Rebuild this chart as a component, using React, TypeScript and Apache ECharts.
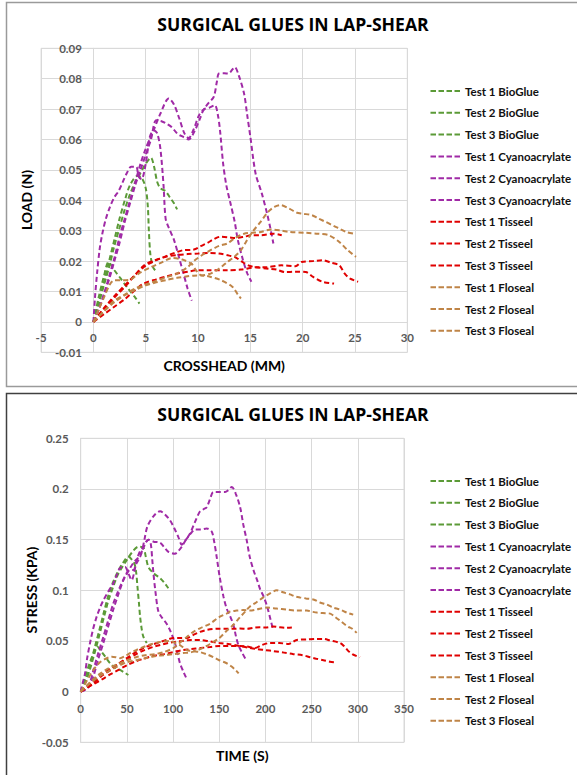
import React, { useEffect, useRef } from "react";
import * as echarts from "echarts";

const seriesNames = [
  "Test 1 BioGlue", "Test 2 BioGlue", "Test 3 BioGlue",
  "Test 1 Cyanoacrylate", "Test 2 Cyanoacrylate", "Test 3 Cyanoacrylate",
  "Test 1 Tisseel", "Test 2 Tisseel", "Test 3 Tisseel",
  "Test 1 Floseal", "Test 2 Floseal", "Test 3 Floseal",
];
const GREEN = "#5b9a37";
const PURPLE = "#a02aa6";
const RED = "#e00000";
const BROWN = "#bf8447";
const seriesColors = [GREEN, GREEN, GREEN, PURPLE, PURPLE, PURPLE, RED, RED, RED, BROWN, BROWN, BROWN];

const chartTitle = "SURGICAL GLUES IN LAP-SHEAR";
const loadXName = "CROSSHEAD (MM)";
const loadYName = "LOAD (N)";
const stressXName = "TIME (S)";
const stressYName = "STRESS (KPA)";

const loadXRange = { min: -5, max: 30, interval: 5 };
const loadYRange = { min: -0.01, max: 0.09, interval: 0.01 };
const stressXRange = { min: 0, max: 350, interval: 50 };
const stressYRange = { min: -0.05, max: 0.25, interval: 0.05 };

// ---- Chart 1: crosshead (mm) vs load (N)
const loadBio1 = [[0,0],[0.5,0.008],[1,0.015],[1.45,0.0197],[2,0.017],[2.6,0.0143],[3.3,0.011],[4,0.008],[4.4,0.006]];
const loadBio2 = [[0,0],[0.5,0.006],[1,0.013],[1.5,0.02],[2,0.027],[2.5,0.034],[3,0.04],[3.5,0.045],[4.2,0.048],[4.6,0.0475],[5,0.044],[5.2,0.038],[5.3,0.03],[5.45,0.022],[5.7,0.018],[5.9,0.017]];
const loadBio3 = [[0,0],[0.5,0.006],[1,0.012],[1.5,0.018],[2,0.025],[2.5,0.031],[3,0.037],[3.5,0.042],[4,0.046],[4.5,0.049],[5,0.052],[5.5,0.054],[5.8,0.051],[6.1,0.046],[6.4,0.044],[6.9,0.043],[7.3,0.041],[7.7,0.039],[8,0.037]];
const loadCya1 = [[0,0],[0.15,0.008],[0.35,0.016],[0.6,0.024],[0.85,0.029],[1.2,0.034],[1.6,0.038],[2,0.041],[2.4,0.043],[2.8,0.046],[3.2,0.049],[3.6,0.051],[4.1,0.051],[4.3,0.048],[4.6,0.047],[5,0.052],[5.4,0.061],[5.8,0.063],[6.1,0.062],[6.4,0.057],[6.7,0.045],[6.9,0.034],[7.2,0.031],[7.7,0.027],[8.2,0.021],[8.6,0.016],[9,0.011],[9.4,0.007]];
const loadCya2 = [[0,0],[0.5,0.004],[1,0.009],[1.5,0.015],[2,0.021],[2.5,0.028],[3,0.034],[3.5,0.04],[4,0.046],[4.5,0.052],[5,0.057],[5.75,0.063],[6.4,0.0685],[7.2,0.0735],[7.7,0.0715],[8.2,0.067],[8.7,0.062],[9.1,0.0605],[9.6,0.0635],[10.1,0.068],[10.6,0.07],[11.1,0.0705],[11.6,0.0713],[11.9,0.068],[12.1,0.063],[12.4,0.052],[12.7,0.045],[13.1,0.039],[13.5,0.033],[13.8,0.027],[14.3,0.0203],[14.7,0.016],[15.1,0.0132]];
const loadCya3 = [[0,0],[0.5,0.004],[1,0.009],[1.5,0.014],[2,0.02],[2.5,0.026],[3,0.033],[3.5,0.039],[4,0.045],[4.5,0.05],[5,0.055],[5.5,0.06],[6,0.0663],[6.5,0.066],[7,0.0652],[7.5,0.064],[8,0.062],[8.5,0.061],[9.1,0.06],[9.7,0.063],[10.2,0.067],[10.5,0.0696],[11,0.072],[11.5,0.074],[11.8,0.079],[12,0.0817],[12.5,0.0818],[12.9,0.0817],[13.5,0.0838],[13.9,0.081],[14.4,0.0751],[14.7,0.068],[15,0.0609],[15.5,0.0488],[16.1,0.0422],[16.6,0.0356],[16.9,0.031],[17.2,0.0258]];
const loadTis1 = [[0,0],[1,0.004],[2,0.008],[3,0.0115],[4,0.0155],[4.8,0.0185],[5.5,0.0198],[6.5,0.021],[7.35,0.0222],[8,0.023],[8.6,0.0236],[9.6,0.0238],[10.3,0.025],[10.9,0.026],[11.5,0.0272],[12.1,0.028],[13,0.0278],[13.5,0.0276],[14.4,0.028],[15.1,0.0285],[16,0.0285],[17.2,0.029],[18,0.0285]];
const loadTis2 = [[0,0],[1,0.0045],[2,0.0085],[3,0.012],[4,0.0155],[5,0.0185],[6,0.0203],[7,0.0215],[8,0.022],[9,0.0223],[10,0.0225],[11,0.0227],[12,0.0225],[13,0.0218],[13.5,0.0214],[14.2,0.0198],[14.8,0.0186],[15.5,0.018],[16.75,0.0175],[17.5,0.0172],[18.3,0.0164],[19.3,0.0165],[20.3,0.0164],[21,0.0148],[21.9,0.0132],[23,0.0126]];
const loadTis3 = [[0,0],[1,0.0025],[2,0.005],[3,0.0075],[4,0.0105],[4.8,0.0126],[6,0.014],[7,0.015],[8,0.0159],[9,0.0165],[10,0.017],[11,0.017],[12.8,0.017],[14.1,0.0172],[15.7,0.018],[16.5,0.018],[18,0.0186],[19.3,0.0183],[19.9,0.0197],[21,0.02],[21.9,0.0203],[22.7,0.0195],[23.5,0.0186],[24,0.016],[24.5,0.0143],[25.3,0.0132]];
const loadFlo1 = [[0,0],[0.5,0.004],[1,0.008],[1.6,0.0125],[2,0.0137],[2.6,0.0137],[3.4,0.0138],[4,0.015],[4.5,0.0163],[5.5,0.018],[6.5,0.0195],[7.5,0.021],[8.5,0.0205],[9.4,0.019],[9.8,0.017],[10.2,0.0155],[11,0.015],[12.2,0.0137],[13.3,0.0115],[13.8,0.009],[14.1,0.0077]];
const loadFlo2 = [[0,0],[1,0.0035],[2,0.007],[3,0.009],[4,0.011],[5,0.0123],[6,0.0135],[7,0.0147],[8,0.0159],[9,0.018],[9.6,0.02],[10.4,0.022],[11.2,0.0236],[12,0.025],[12.8,0.0258],[13.5,0.0275],[14.4,0.029],[15.1,0.0293],[16,0.0296],[17,0.0304],[18,0.03],[18.7,0.0296],[20.3,0.0293],[21.5,0.029],[22.5,0.0285],[23.5,0.0263],[24.3,0.0236],[25.1,0.0214]];
const loadFlo3 = [[0,0],[1,0.0035],[2,0.0065],[3,0.0088],[4,0.0105],[5,0.012],[6,0.013],[7,0.0138],[8,0.0145],[9,0.015],[9.6,0.0152],[10.4,0.0153],[11.2,0.0159],[12,0.0175],[12.8,0.0197],[13.5,0.0215],[14.1,0.0236],[14.7,0.027],[15.2,0.0296],[16,0.033],[16.7,0.0362],[17.3,0.0378],[17.9,0.0384],[18.7,0.0373],[19.4,0.036],[20,0.0356],[20.9,0.0351],[21.5,0.034],[22.2,0.0329],[23,0.0315],[23.5,0.0307],[24.2,0.0295],[24.9,0.029]];

// ---- Chart 2: time (s) vs stress (kPa)
const stressBio1 = [[0,0],[5,0.015],[10,0.029],[15,0.04],[18,0.0444],[22,0.04],[27,0.034],[31.8,0.028],[37,0.024],[42.6,0.0214],[47,0.019],[51.6,0.0164]];
const stressBio2 = [[0,0],[5,0.01],[10,0.025],[15,0.043],[20,0.06],[25,0.078],[30,0.095],[35,0.108],[40,0.118],[45,0.126],[51.6,0.133],[57.8,0.127],[60,0.118],[61.4,0.104],[63,0.088],[64.3,0.074],[66,0.062],[67.9,0.054],[71.5,0.048]];
const stressBio3 = [[0,0],[5,0.009],[10,0.022],[15,0.038],[20,0.055],[25,0.073],[30,0.09],[35,0.103],[40,0.115],[45,0.123],[50,0.13],[56,0.138],[62.5,0.143],[67.9,0.142],[70.5,0.133],[73.3,0.123],[78.7,0.117],[85.9,0.112],[90,0.108],[94.9,0.102]];
const stressCya1 = [[0,0],[2,0.008],[4.7,0.018],[7,0.033],[10.1,0.048],[13.5,0.062],[17.3,0.074],[21,0.083],[24.5,0.09],[30,0.099],[35.3,0.107],[39,0.115],[42.6,0.122],[48,0.123],[51.5,0.117],[55.2,0.11],[58,0.118],[60.6,0.13],[64,0.138],[67.9,0.143],[71,0.148],[73.3,0.15],[75.8,0.146],[77.5,0.13],[78.7,0.117],[81,0.098],[84.1,0.079],[88,0.073],[93,0.067],[97,0.06],[102,0.048],[105,0.037],[107.5,0.028],[111,0.02],[114,0.014]];
const stressCya2 = [[0,0],[5,0.002],[10,0.006],[13.7,0.0148],[19,0.032],[24.5,0.048],[30,0.065],[35.3,0.081],[40,0.094],[46.2,0.11],[51,0.118],[57,0.127],[62,0.132],[66,0.138],[69,0.15],[72.2,0.163],[78.7,0.173],[85.9,0.178],[91,0.175],[96.7,0.169],[102,0.16],[106,0.152],[109.4,0.145],[113,0.149],[116.6,0.153],[120,0.157],[123.8,0.16],[130,0.16],[136.4,0.161],[141.8,0.158],[144.5,0.148],[147.2,0.133],[150.5,0.113],[154.5,0.094],[158,0.082],[161.5,0.075],[165.3,0.066],[168,0.055],[170.7,0.046],[175,0.038],[179.7,0.03]];
const stressCya3 = [[0,0],[5,0.002],[10,0.009],[13.7,0.021],[19,0.038],[24.5,0.054],[30,0.071],[35.3,0.087],[40,0.098],[44.4,0.107],[49.8,0.117],[53,0.12],[57,0.12],[60,0.126],[64.3,0.133],[68,0.142],[73.3,0.15],[79,0.148],[85.9,0.147],[90,0.143],[95,0.138],[102,0.136],[106,0.139],[109.4,0.143],[114,0.15],[118.4,0.156],[124,0.168],[129.2,0.178],[133,0.18],[136.4,0.182],[140,0.19],[143.6,0.197],[150,0.197],[156.3,0.197],[160,0.199],[163.6,0.202],[168,0.195],[172.6,0.182],[176,0.165],[179.8,0.149],[183,0.133],[187,0.12],[191,0.11],[194.3,0.101],[198,0.094],[201.5,0.085],[205,0.073],[208,0.062]];
const stressTis1 = [[0,0],[5,0.003],[13.7,0.008],[22,0.015],[31.8,0.021],[40,0.027],[49.8,0.033],[58,0.038],[67.9,0.043],[76,0.046],[85.9,0.049],[93,0.051],[100.4,0.053],[107,0.053],[114.8,0.053],[122,0.056],[129.2,0.059],[137,0.061],[147.2,0.062],[156,0.062],[165.3,0.062],[172.6,0.0623],[180,0.062],[187,0.063],[194.1,0.0635],[201.5,0.0633],[208.7,0.0643],[215,0.0635],[222,0.063],[228.6,0.0633]];
const stressTis2 = [[0,0],[7,0.005],[15,0.011],[23,0.017],[31.8,0.0225],[40,0.027],[50,0.032],[60,0.037],[67.9,0.0405],[78,0.044],[85.9,0.046],[95,0.048],[100.4,0.049],[110,0.05],[120,0.051],[129.3,0.051],[140,0.0495],[150.2,0.048],[160,0.047],[172.6,0.045],[181,0.0435],[190.6,0.042],[200,0.041],[208.7,0.04],[220,0.0385],[230.3,0.037],[240,0.036],[248.4,0.034],[255,0.0325],[262.8,0.031],[270,0.0295],[275.5,0.029]];
const stressTis3 = [[0,0],[7,0.004],[15,0.008],[23,0.012],[31.8,0.017],[40,0.021],[50,0.026],[60,0.03],[70,0.033],[80,0.0355],[90,0.037],[100,0.039],[110,0.041],[120,0.042],[129.3,0.043],[140,0.044],[150.2,0.045],[160,0.045],[172.6,0.045],[180,0.0445],[188.8,0.043],[196,0.046],[205.1,0.048],[215,0.048],[225,0.047],[233.9,0.051],[245,0.0515],[255,0.052],[262.8,0.052],[270,0.0505],[280.8,0.048],[285,0.045],[289.8,0.04],[294,0.037],[298.8,0.035],[302.4,0.034]];
const stressFlo1 = [[0,0],[5,0.008],[10,0.016],[15,0.023],[20.9,0.029],[26,0.032],[33.6,0.0345],[38,0.034],[42.6,0.033],[48,0.035],[53.4,0.038],[60,0.041],[67.9,0.044],[77,0.047],[85.9,0.049],[96.7,0.05],[102,0.048],[107.5,0.046],[114.8,0.041],[122,0.04],[129.2,0.039],[136,0.037],[143.6,0.034],[150,0.031],[158,0.028],[163,0.025],[168,0.021],[171,0.018]];
const stressFlo2 = [[0,0],[10,0.009],[20,0.017],[30,0.023],[40,0.027],[50,0.031],[60,0.034],[70,0.036],[80,0.037],[90,0.039],[100.4,0.043],[107,0.048],[114.8,0.054],[122,0.059],[129.2,0.0625],[140,0.067],[147.3,0.072],[153,0.075],[158,0.077],[161.7,0.079],[168.9,0.08],[176,0.0805],[183.3,0.08],[190,0.081],[201.5,0.083],[212,0.082],[223.2,0.081],[234,0.08],[244.8,0.08],[250,0.079],[255.6,0.078],[262,0.0775],[270.1,0.077],[275,0.074],[280.8,0.07],[285,0.067],[289.8,0.064],[294,0.062],[298.8,0.058]];
const stressFlo3 = [[0,0],[10,0.008],[20,0.015],[30,0.02],[40,0.025],[50,0.029],[60,0.031],[70,0.033],[80,0.035],[90,0.036],[100,0.037],[110,0.038],[120,0.039],[129.3,0.042],[140,0.047],[150.2,0.053],[158,0.06],[165.3,0.066],[172,0.073],[178,0.079],[183.3,0.084],[190,0.088],[197.7,0.093],[205,0.097],[212.1,0.1],[219,0.098],[226.5,0.096],[232,0.094],[237.3,0.093],[244,0.092],[251.8,0.091],[259,0.088],[266.2,0.086],[273,0.083],[280.6,0.081],[288,0.078],[295,0.076]];

const loadData = [loadBio1, loadBio2, loadBio3, loadCya1, loadCya2, loadCya3, loadTis1, loadTis2, loadTis3, loadFlo1, loadFlo2, loadFlo3];
const stressData = [stressBio1, stressBio2, stressBio3, stressCya1, stressCya2, stressCya3, stressTis1, stressTis2, stressTis3, stressFlo1, stressFlo2, stressFlo3];

const GRID_COLOR = "#d9d9d9";
const LABEL_COLOR = "#595959";
const FONT = "Lato";
const dashIcon = "path://M0,0h5.5v2h-5.5z M8,0h5.5v2h-5.5z M16,0h5.5v2h-5.5z M24,0h5.5v2h-5.5z";

const fmt = (v: number) => String(Number(v.toFixed(2)));

// plot rectangles (pixels)
const g1 = { left: 41.1, top: 48.3, width: 366.2, height: 304 };
const g2 = { left: 80.7, top: 438.3, width: 323.3, height: 304 };
// distance of the zero line from the min edge of a plot (used to make the axes cross at 0)
const zeroShift = (min: number, max: number, size: number) => (-min / (max - min)) * size;

function axisCommon(margin: number, offset: number) {
  return {
    type: "value" as const,
    offset,
    axisLine: { show: true, onZero: false, lineStyle: { color: GRID_COLOR, width: 1 } },
    axisTick: { show: false },
    splitLine: { show: true, lineStyle: { color: GRID_COLOR, width: 1 } },
    axisLabel: {
      margin,
      color: LABEL_COLOR,
      fontFamily: FONT,
      fontWeight: "bold" as const,
      fontSize: 11.5,
      formatter: fmt,
    },
  };
}

function makeSeries(sets: number[][][], idx: number) {
  return sets.map((d, i) => ({
    type: "line" as const,
    name: seriesNames[i],
    xAxisIndex: idx,
    yAxisIndex: idx,
    data: d,
    symbol: "none",
    smooth: 0.3,
    lineStyle: { color: seriesColors[i], width: 2, type: [5, 3] },
    itemStyle: { color: seriesColors[i] },
    z: 2,
  }));
}

function legendAt(top: number) {
  return {
    data: seriesNames,
    orient: "vertical" as const,
    left: 430.5,
    top,
    padding: 0,
    itemWidth: 29.5,
    itemHeight: 12,
    itemGap: 9.8,
    icon: dashIcon,
    selectedMode: false,
    textStyle: { fontFamily: FONT, fontWeight: "bold" as const, fontSize: 11.5, color: "#111" },
  };
}

function txt(text: string, x: number, y: number, size: number, family: string, rotation = 0) {
  return {
    type: "text" as const,
    x,
    y,
    rotation,
    silent: true,
    style: {
      text,
      fontSize: size,
      fontWeight: "bold",
      fontFamily: family,
      fill: "#000",
      align: "center",
      verticalAlign: "middle",
    },
  };
}

export default function App() {
  const ref = useRef<HTMLDivElement>(null);
  useEffect(() => {
    if (!ref.current) return;
    const chart = echarts.init(ref.current, undefined, { renderer: "svg" });
    const x1Off = -zeroShift(loadYRange.min, loadYRange.max, g1.height);
    const y1Off = -zeroShift(loadXRange.min, loadXRange.max, g1.width);
    const x2Off = -zeroShift(stressYRange.min, stressYRange.max, g2.height);
    const y2Off = -zeroShift(stressXRange.min, stressXRange.max, g2.width);
    chart.setOption({
      animation: false,
      backgroundColor: "#fff",
      grid: [
        { ...g1, show: true, borderColor: GRID_COLOR, borderWidth: 1 },
        { ...g2, show: true, borderColor: GRID_COLOR, borderWidth: 1 },
      ],
      xAxis: [
        { ...axisCommon(10, x1Off), gridIndex: 0, position: "bottom", ...loadXRange },
        { ...axisCommon(11, x2Off), gridIndex: 1, position: "bottom", ...stressXRange },
      ],
      yAxis: [
        { ...axisCommon(11.5, y1Off), gridIndex: 0, position: "left", ...loadYRange },
        { ...axisCommon(12, y2Off), gridIndex: 1, position: "left", ...stressYRange },
      ],
      legend: [legendAt(85), legendAt(475)],
      series: [...makeSeries(loadData, 0), ...makeSeries(stressData, 1)],
      graphic: [
        { type: "rect", silent: true, shape: { x: 6.5, y: 2.5, width: 620, height: 384 }, style: { fill: "none", stroke: "#9a9a9a", lineWidth: 1.5 } },
        { type: "rect", silent: true, shape: { x: 6.5, y: 393.5, width: 620, height: 420 }, style: { fill: "none", stroke: "#404040", lineWidth: 1.5 } },
        txt(chartTitle, 293, 23.5, 17.6, "Open Sans"),
        txt(chartTitle, 293, 413.5, 17.6, "Open Sans"),
        txt(loadXName, 224.2, 365, 14, FONT),
        txt(loadYName, 26, 200, 14, FONT, Math.PI / 2),
        txt(stressXName, 242.3, 755, 14, FONT),
        txt(stressYName, 31, 590, 14, FONT, Math.PI / 2),
      ],
    });
    return () => chart.dispose();
  }, []);
  return (
    <div
      ref={ref}
      style={{ position: "fixed", left: 0, top: 0, width: 577, height: 775, background: "#fff" }}
    />
  );
}
